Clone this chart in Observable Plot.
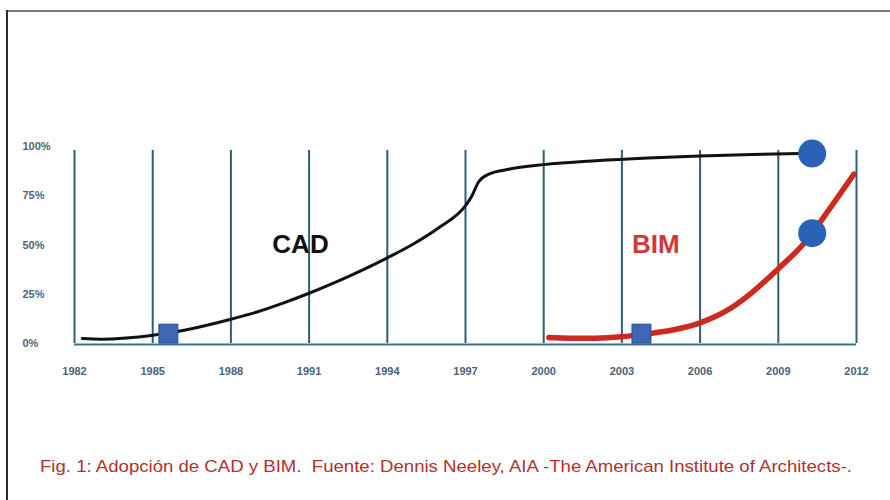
<!DOCTYPE html>
<html>
<head>
<meta charset="utf-8">
<script src="https://cdn.jsdelivr.net/npm/d3@7"></script>
<script src="https://cdn.jsdelivr.net/npm/@observablehq/plot@0.6"></script>
<style>
  html, body { margin: 0; padding: 0; background: #fff; }
  #wrap { position: relative; width: 890px; height: 500px; overflow: hidden; background: #fff; font-family: "Liberation Sans", Arial, sans-serif; }
  #topline { position: absolute; left: 6px; top: 10px; width: 884px; height: 2px; background: #7a7a7a; }
  #leftline { position: absolute; left: 6px; top: 10px; width: 2px; height: 490px; background: #2a2a2a; }
  #chart { position: absolute; left: 0; top: 0; }
  #caption { position: absolute; left: 0; top: 450px; }
</style>
</head>
<body>
<div id="wrap">
  <div id="chart"></div>
  <svg id="caption" width="890" height="40"></svg>
  <div id="topline"></div>
  <div id="leftline"></div>
</div>
<script>
// Tick labels
const yearTicks = [1982, 1985, 1988, 1991, 1994, 1997, 2000, 2003, 2006, 2009, 2012];
const pctTicks = [0, 25, 50, 75, 100];

// CAD adoption curve (year, percent)
const cadYears  = [1982.3, 1983, 1984, 1985, 1986, 1987, 1988, 1989, 1990, 1991, 1992, 1993, 1994, 1995, 1996, 1997, 1997.25, 1997.5, 1997.9, 1998.6, 2000, 2002, 2004, 2006, 2008, 2010.3];
const cadValues = [2.5, 2.2, 2.8, 4.2, 6.2, 9, 12.3, 16, 20.5, 25.5, 31, 37, 43.5, 50.5, 59, 70, 75, 82, 86, 88.3, 90.8, 92.8, 94.2, 95.2, 96, 96.6];

// BIM adoption curve (year, percent)
const bimYears  = [2000.2, 2001, 2002, 2003, 2004, 2005, 2006, 2007, 2008, 2009, 2010, 2011, 2011.9];
const bimValues = [3, 2.7, 2.7, 3.4, 5, 7, 10.5, 16.5, 26, 38, 51, 69, 86];

// Markers
const squareYears  = [1985.6, 2003.75];
const squareValues = [5, 5];
const circleYears  = [2010.3, 2010.3];
const circleValues = [96.4, 56];

// Labels
const seriesLabels = ["CAD", "BIM"];
const labelYears   = [1990.67, 2004.3];
const labelValues  = [50.3, 50.3];
const captionText = "Fig. 1: Adopción de CAD y BIM.  Fuente: Dennis Neeley, AIA -The American Institute of Architects-.";

const cad = cadYears.map((x, i) => ({x, y: cadValues[i]}));
const bim = bimYears.map((x, i) => ({x, y: bimValues[i]}));
const squares = squareYears.map((x, i) => ({x, y: squareValues[i]}));
const circles = circleYears.map((x, i) => ({x, y: circleValues[i]}));
const labels = seriesLabels.map((t, i) => ({t, x: labelYears[i], y: labelValues[i]}));

const gridColor = "#2f5d72";
const tickColor = "#4a6476";

const plot = Plot.plot({
  width: 890,
  height: 420,
  marginLeft: 74,
  marginRight: 34,
  marginTop: 146,
  marginBottom: 77,
  style: { background: "transparent", fontFamily: "'Liberation Sans', Arial, sans-serif" },
  x: { domain: [1982, 2012] },
  y: { domain: [0, 100] },
  marks: [
    Plot.ruleX(yearTicks, { x: d => d, y1: 0, y2: 98, stroke: gridColor, strokeWidth: 2 }),
    Plot.ruleY([0], { x1: 1982, x2: 2012, dy: 1, stroke: "#3d7088", strokeWidth: 2 }),
    Plot.axisX({ ticks: yearTicks, tickFormat: d => String(d), tickSize: 0, tickPadding: 24, fontSize: 11, fontWeight: "bold", fill: tickColor, label: null }),
    Plot.axisY({ ticks: pctTicks, tickFormat: d => d + "%", tickSize: 0, tickPadding: 52, textAnchor: "start", fontSize: 11, fontWeight: "bold", fill: tickColor, label: null }),
    Plot.line(cad, { x: "x", y: "y", curve: "monotone-x", stroke: "#111", strokeWidth: 3 }),
    Plot.line(bim, { x: "x", y: "y", curve: "monotone-x", stroke: "#cc2a1f", strokeWidth: 5.5 }),
    Plot.dot(squares, { x: "x", y: "y", symbol: "square", r: 10.7, fill: "#3f66b5", stroke: "#2c4a8a", strokeWidth: 1 }),
    Plot.dot(circles, { x: "x", y: "y", r: 14, fill: "#2a62b8" }),
    Plot.text(labels, { x: "x", y: "y", text: "t", fontSize: 26, fontWeight: "bold", fill: d => d.t === "CAD" ? "#111" : "#d23a3a" })
  ]
});
document.getElementById("chart").appendChild(plot);

// Caption
d3.select("#caption").append("text")
  .attr("x", 40).attr("y", 22)
  .attr("textLength", 812).attr("lengthAdjust", "spacingAndGlyphs")
  .attr("font-family", "'Liberation Sans', Arial, sans-serif")
  .attr("font-size", 17)
  .attr("fill", "#b3302d")
  .style("white-space", "pre")
  .text(captionText);
</script>
</body>
</html>
